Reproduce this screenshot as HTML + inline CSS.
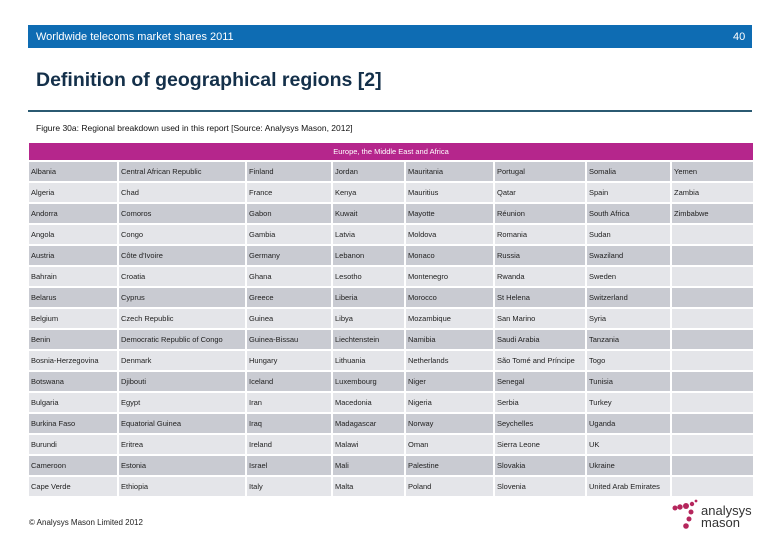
<!DOCTYPE html>
<html><head><meta charset="utf-8"><style>
body{margin:0;width:780px;height:540px;background:#fff;position:relative;overflow:hidden;font-family:"Liberation Sans",sans-serif}
.a{position:absolute}
.cell{position:absolute;font-size:7.5px;color:#222;line-height:19px;padding-left:2px;white-space:nowrap;overflow:hidden;box-sizing:border-box}
</style></head><body>
<div class="a" style="left:28px;top:25px;width:724px;height:23px;background:#0e6cb3"></div>
<div class="a" style="left:36px;top:31px;font-size:11px;color:#fff">Worldwide telecoms market shares 2011</div>
<div class="a" style="left:733px;top:31px;font-size:11px;color:#fff">40</div>
<div class="a" style="left:36px;top:69px;font-size:19.5px;font-weight:bold;color:#14304a">Definition of geographical regions [2]</div>
<div class="a" style="left:28px;top:110px;width:724px;height:2px;background:#2b5a72"></div>
<div class="a" style="left:36px;top:123px;font-size:8.5px;color:#111">Figure 30a: Regional breakdown used in this report [Source: Analysys Mason, 2012]</div>
<div class="a" style="left:29px;top:143px;width:724px;height:17px;background:#b5268c;color:#fff;font-size:7.5px;text-align:center;line-height:18px">Europe, the Middle East and Africa</div>
<div id="tbl"></div>
<div class="a" style="left:29px;top:518px;font-size:8px;color:#222">© Analysys Mason Limited 2012</div>
<svg class="a" style="left:670px;top:498px" width="90" height="34">
<circle cx="5" cy="10" r="2.5" fill="#b5265c"/><circle cx="10" cy="9" r="2.7" fill="#b5265c"/><circle cx="16" cy="8" r="3" fill="#b5265c"/><circle cx="22" cy="6" r="2.2" fill="#b5265c"/><circle cx="26" cy="3" r="1.4" fill="#b5265c"/><circle cx="21" cy="14" r="2.5" fill="#b5265c"/><circle cx="19" cy="21" r="2.5" fill="#b5265c"/><circle cx="16" cy="28" r="2.8" fill="#b5265c"/>
<text x="31" y="17" font-size="13" font-family="Liberation Sans" fill="#333">analysys</text>
<text x="31" y="29" font-size="13" font-family="Liberation Sans" fill="#333">mason</text>
</svg>
<script>
const cols=[
["Albania","Algeria","Andorra","Angola","Austria","Bahrain","Belarus","Belgium","Benin","Bosnia-Herzegovina","Botswana","Bulgaria","Burkina Faso","Burundi","Cameroon","Cape Verde"],
["Central African Republic","Chad","Comoros","Congo","Côte d'Ivoire","Croatia","Cyprus","Czech Republic","Democratic Republic of Congo","Denmark","Djibouti","Egypt","Equatorial Guinea","Eritrea","Estonia","Ethiopia"],
["Finland","France","Gabon","Gambia","Germany","Ghana","Greece","Guinea","Guinea-Bissau","Hungary","Iceland","Iran","Iraq","Ireland","Israel","Italy"],
["Jordan","Kenya","Kuwait","Latvia","Lebanon","Lesotho","Liberia","Libya","Liechtenstein","Lithuania","Luxembourg","Macedonia","Madagascar","Malawi","Mali","Malta"],
["Mauritania","Mauritius","Mayotte","Moldova","Monaco","Montenegro","Morocco","Mozambique","Namibia","Netherlands","Niger","Nigeria","Norway","Oman","Palestine","Poland"],
["Portugal","Qatar","Réunion","Romania","Russia","Rwanda","St Helena","San Marino","Saudi Arabia","São Tomé and Príncipe","Senegal","Serbia","Seychelles","Sierra Leone","Slovakia","Slovenia"],
["Somalia","Spain","South Africa","Sudan","Swaziland","Sweden","Switzerland","Syria","Tanzania","Togo","Tunisia","Turkey","Uganda","UK","Ukraine","United Arab Emirates"],
["Yemen","Zambia","Zimbabwe","","","","","","","","","","","","",""]];
const xs=[29,119,247,333,406,495,587,672,753];
const t=document.getElementById('tbl');
for(let c=0;c<8;c++)for(let r=0;r<16;r++){
 const d=document.createElement('div');d.className='cell';
 
 
 d.style.left=xs[c]+'px';d.style.top=(162+r*21)+'px';
 d.style.width=(xs[c+1]-xs[c]-(c<7?2:0))+'px';d.style.height='19px';
 d.style.background=r%2==0?'#c9cbd2':'#e4e5e9';
 d.textContent=cols[c][r];t.appendChild(d);}
</script>
</body></html>
